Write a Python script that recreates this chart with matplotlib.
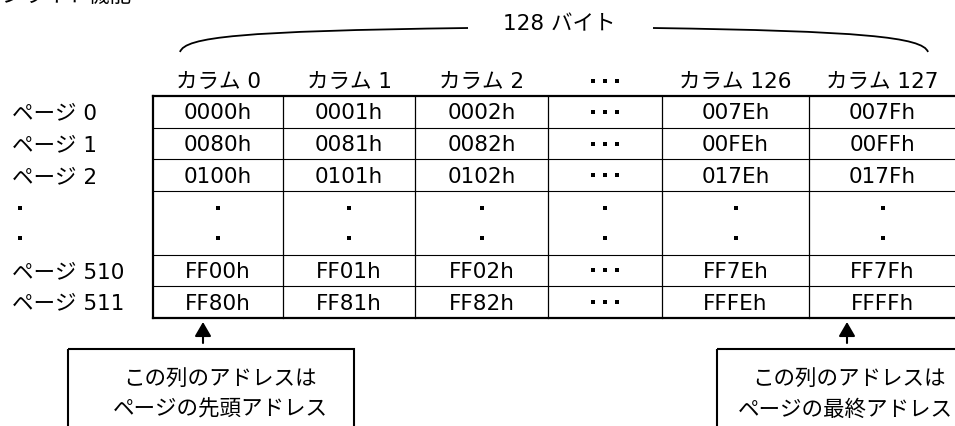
import matplotlib
matplotlib.use("Agg")
import matplotlib.pyplot as plt
from matplotlib.path import Path
from matplotlib.patches import PathPatch, Rectangle

plt.rcParams['font.family'] = ['DejaVu Sans', 'Noto Sans CJK JP']

# ---- data ----
ELL = "..."    # horizontal ellipsis cell
VDOT = ":"     # vertical ellipsis cell
col_labels = ["カラム 0", "カラム 1", "カラム 2", ELL, "カラム 126", "カラム 127"]
row_labels = ["ページ 0", "ページ 1", "ページ 2", VDOT, "ページ 510", "ページ 511"]
cells = [
    ["0000h", "0001h", "0002h", ELL, "007Eh", "007Fh"],
    ["0080h", "0081h", "0082h", ELL, "00FEh", "00FFh"],
    ["0100h", "0101h", "0102h", ELL, "017Eh", "017Fh"],
    [VDOT, VDOT, VDOT, VDOT, VDOT, VDOT],
    ["FF00h", "FF01h", "FF02h", ELL, "FF7Eh", "FF7Fh"],
    ["FF80h", "FF81h", "FF82h", ELL, "FFFEh", "FFFFh"],
]
span_label = "128 バイト"
title_cut = "ページライト機能"
note_left = ["この列のアドレスは", "ページの先頭アドレス"]
note_right = ["この列のアドレスは", "ページの最終アドレス"]

# ---- layout (pixels) ----
col_w = [130, 132, 133, 114, 147, 147]
row_h = [31.7, 31.7, 31.7, 63.4, 31.7, 31.7]
x0, y0 = 153, 96
fs = 15.5
col_x = [x0]
for w in col_w:
    col_x.append(col_x[-1] + w)
row_y = [y0]
for h in row_h:
    row_y.append(row_y[-1] + h)

fig = plt.figure(figsize=(9.55, 4.26), dpi=100)
ax = fig.add_axes([0, 0, 1, 1])
ax.set_xlim(0, 955)
ax.set_ylim(426, 0)
ax.axis('off')


def hdots(xc, y):
    ax.plot([xc - 12, xc, xc + 12], [y, y, y], 's', color='black', ms=2.3, mew=0)


def vdots(xc, yc):
    ax.plot([xc, xc], [yc - 15, yc + 15], 's', color='black', ms=2.6, mew=0)


# grid lines
for y in row_y[1:-1]:
    ax.plot([x0, col_x[-1]], [y, y], color='black', lw=0.8)
for x in col_x[1:-1]:
    ax.plot([x, x], [y0, row_y[-1]], color='black', lw=0.9)
ax.plot([x0, col_x[-1]], [y0, y0], color='black', lw=1.6)
ax.plot([x0, col_x[-1]], [row_y[-1], row_y[-1]], color='black', lw=1.6)
ax.plot([x0, x0], [y0, row_y[-1]], color='black', lw=1.6)

# cells
for r, row in enumerate(cells):
    yc = (row_y[r] + row_y[r + 1]) / 2
    for c, val in enumerate(row):
        xc = (col_x[c] + col_x[c + 1]) / 2
        if val == ELL:
            hdots(xc, yc)
        elif val == VDOT:
            vdots(xc, yc)
        else:
            ax.text(xc, yc + 7.5, val, ha='center', va='baseline', fontsize=fs)

# column headers
for c, lab in enumerate(col_labels):
    xc = (col_x[c] + col_x[c + 1]) / 2
    if lab == ELL:
        hdots(xc, 81)
    else:
        ax.text(xc, 88, lab, ha='center', va='baseline', fontsize=fs)

# row labels
for r, lab in enumerate(row_labels):
    yc = (row_y[r] + row_y[r + 1]) / 2
    if lab == VDOT:
        vdots(20, yc)
    else:
        ax.text(12, yc + 7.5, lab, ha='left', va='baseline', fontsize=fs)

# brace over the columns
left = Path([(180, 52), (185, 37), (240, 31), (468, 28)],
            [Path.MOVETO, Path.CURVE4, Path.CURVE4, Path.CURVE4])
right = Path([(653, 28), (860, 31), (923, 37), (928, 52)],
             [Path.MOVETO, Path.CURVE4, Path.CURVE4, Path.CURVE4])
for p in (left, right):
    ax.add_patch(PathPatch(p, fill=False, lw=1.3, color='black'))
ax.text(503, 30, span_label, ha='left', va='baseline', fontsize=fs)

# cut-off title at the very top
ax.text(-40, 1.5, title_cut, ha='left', va='baseline', fontsize=15.5)

# arrows and note boxes
for xa in (203, 847):
    ax.annotate('', xy=(xa, 322), xytext=(xa, 343),
                arrowprops=dict(arrowstyle='-|>,head_length=0.43,head_width=0.25',
                                mutation_scale=20, lw=1.5, color='black',
                                shrinkA=0, shrinkB=0))
ax.add_patch(Rectangle((68, 349), 286, 100, fill=False, lw=1.5, ec='black'))
ax.add_patch(Rectangle((717, 349), 286, 100, fill=False, lw=1.5, ec='black'))
ax.text(220, 385, note_left[0], ha='center', va='baseline', fontsize=fs)
ax.text(220, 416, note_left[1], ha='center', va='baseline', fontsize=fs)
ax.text(752, 385, note_right[0], ha='left', va='baseline', fontsize=fs)
ax.text(738, 416, note_right[1], ha='left', va='baseline', fontsize=fs)

fig.savefig("out.png", dpi=100)
